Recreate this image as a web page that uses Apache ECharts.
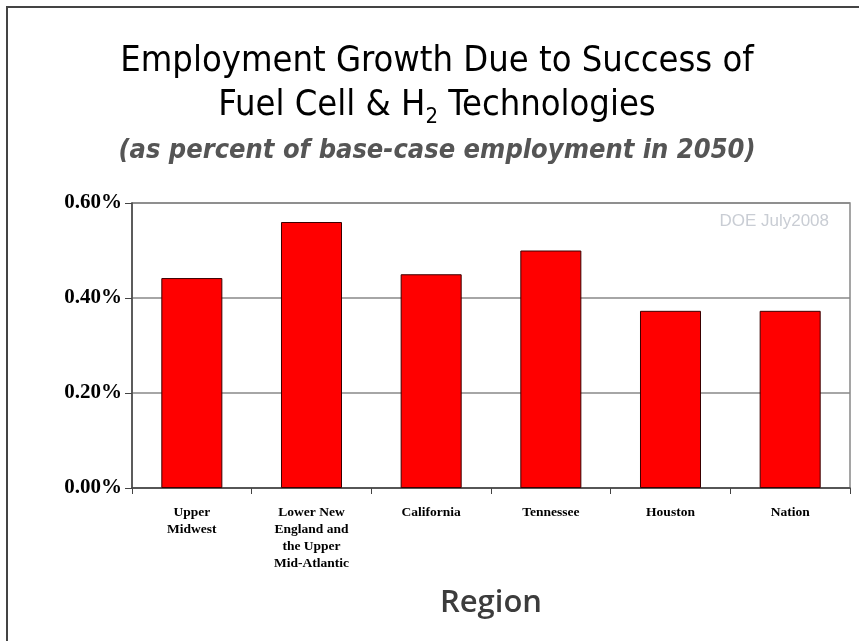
<!DOCTYPE html>
<html>
<head>
<meta charset="utf-8">
<script src="https://cdn.jsdelivr.net/npm/echarts@6/dist/echarts.min.js"></script>
<style>
  html, body { margin: 0; padding: 0; background: #fff; }
  #frame { position: absolute; left: 6px; top: 6px; width: 900px; height: 700px;
           border-left: 2px solid #444; border-top: 2px solid #444; }
  #main { position: absolute; left: 0; top: 0; width: 859px; height: 641px; }
</style>
</head>
<body>
<div id="frame"></div>
<div id="main"></div>
<script>
// regions and growth (percent of base-case employment in 2050)
const regions = ['Upper\nMidwest', 'Lower New\nEngland and\nthe Upper\nMid-Atlantic', 'California', 'Tennessee', 'Houston', 'Nation']
const growth = [0.442, 0.56, 0.45, 0.50, 0.373, 0.373]
const yTicks = [0, 0.2, 0.4, 0.6]

const chart = echarts.init(document.getElementById('main'))

const option = {
  backgroundColor: 'transparent',
  animation: false,
  title: [
    {
      text: 'Employment Growth Due to Success of\nFuel Cell & H{sub|2} Technologies',
      left: 432,
      top: 35,
      textAlign: 'center',
      textStyle: {
        fontFamily: 'DejaVu Sans Condensed',
        fontSize: 36,
        fontWeight: 'normal',
        color: '#000',
        lineHeight: 44,
        rich: {
          sub: { fontFamily: 'DejaVu Sans Condensed', fontSize: 22, verticalAlign: 'bottom', padding: [16, 0, 0, 0], color: '#000' }
        }
      }
    },
    {
      text: '(as percent of base-case employment in 2050)',
      left: 432,
      top: 132,
      textAlign: 'center',
      textStyle: {
        fontFamily: 'DejaVu Sans Condensed',
        fontStyle: 'italic',
        fontSize: 27,
        fontWeight: 'bold',
        color: '#555'
      }
    }
  ],
  graphic: [
    {
      type: 'text',
      right: 30,
      top: 213,
      style: { text: 'DOE July2008', font: '17px "Liberation Sans"', fill: '#c9cdd4' }
    }
  ],
  grid: {
    left: 132,
    right: 9,
    top: 203,
    bottom: 153,
    show: true,
    borderColor: '#888',
    borderWidth: 1.5
  },
  xAxis: {
    type: 'category',
    data: regions,
    name: 'Region',
    nameLocation: 'middle',
    nameGap: 100,
    nameTextStyle: { fontFamily: 'Open Sans', fontSize: 31, fontWeight: 600, color: '#3c3c3c' },
    axisLine: { lineStyle: { color: '#444', width: 1.5 } },
    axisTick: { show: true, length: 6, lineStyle: { color: '#444' } },
    axisLabel: {
      fontFamily: 'Liberation Serif',
      fontWeight: 'bold',
      fontSize: 13.5,
      lineHeight: 17,
      color: '#000',
      margin: 16,
      interval: 0
    }
  },
  yAxis: {
    type: 'value',
    min: yTicks[0],
    max: yTicks[yTicks.length - 1],
    interval: 0.2,
    axisLine: { show: true, lineStyle: { color: '#444', width: 1.5 } },
    axisTick: { show: true, length: 7, lineStyle: { color: '#444' } },
    splitLine: { lineStyle: { color: '#888', width: 1.5 } },
    axisLabel: {
      formatter: v => v.toFixed(2) + '%',
      fontFamily: 'Liberation Serif',
      fontWeight: 'bold',
      fontSize: 21,
      color: '#000',
      margin: 10
    }
  },
  series: [
    {
      type: 'bar',
      data: growth,
      barWidth: '51%',
      itemStyle: { color: '#ff0000', borderColor: '#3a0000', borderWidth: 1 }
    }
  ]
}

chart.setOption(option)
</script>
</body>
</html>
